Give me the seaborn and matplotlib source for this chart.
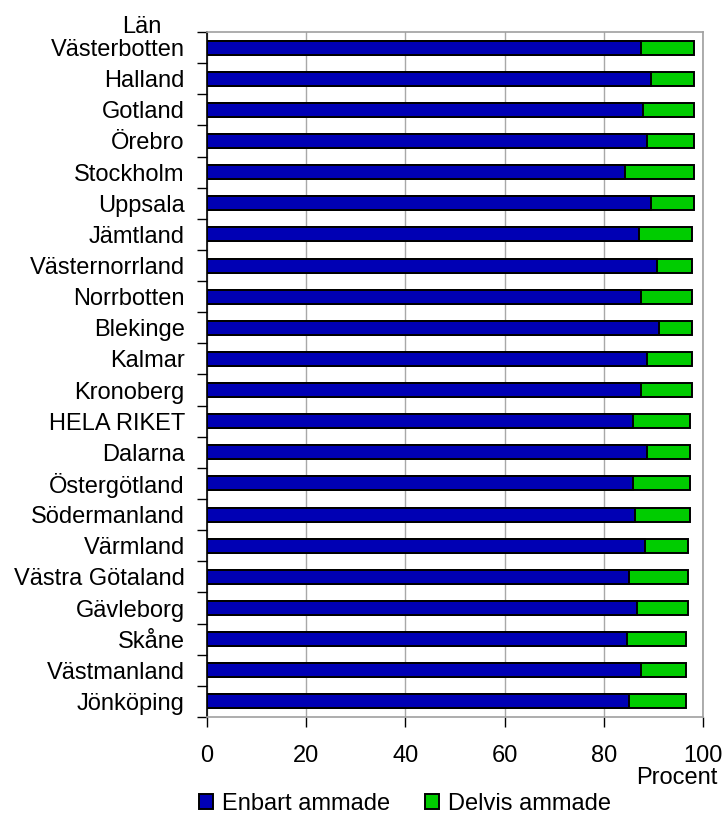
import numpy as np
import pandas as pd
import matplotlib
matplotlib.use("Agg")
import matplotlib.pyplot as plt
import seaborn as sns
from matplotlib.patches import Patch

lan = ["Västerbotten", "Halland", "Gotland", "Örebro", "Stockholm", "Uppsala",
       "Jämtland", "Västernorrland", "Norrbotten", "Blekinge", "Kalmar",
       "Kronoberg", "HELA RIKET", "Dalarna", "Östergötland", "Södermanland",
       "Värmland", "Västra Götaland", "Gävleborg", "Skåne", "Västmanland",
       "Jönköping"]
enbart = [87.4, 89.5, 87.9, 88.7, 84.2, 89.5, 87.1, 90.8, 87.4, 91.1, 88.7,
          87.4, 85.8, 88.7, 85.8, 86.2, 88.3, 85.0, 86.6, 84.6, 87.4, 85.0]
delvis = [10.7, 8.6, 10.2, 9.4, 13.9, 8.6, 10.6, 6.9, 10.3, 6.6, 9.0,
          10.3, 11.5, 8.6, 11.5, 11.1, 8.6, 11.9, 10.3, 11.9, 9.1, 11.5]

df = pd.DataFrame({"Län": lan, "Enbart": enbart, "Delvis": delvis})
df["Totalt"] = df["Enbart"] + df["Delvis"]

blue = "#0000B4"
green = "#00CC00"
fs = 17

sns.set_style("white")
plt.rcParams["font.family"] = ["Liberation Sans", "DejaVu Sans"]
plt.rcParams["text.color"] = "black"
plt.rcParams["xtick.labelcolor"] = "black"
plt.rcParams["ytick.labelcolor"] = "black"

fig = plt.figure(figsize=(7.23, 8.14), dpi=100)
ax = fig.add_axes([207/723, 1 - 717/814, (703 - 207)/723, (717 - 32)/814])

# stacked: green total behind, blue in front
sns.barplot(data=df, x="Totalt", y="Län", color=green, orient="h", width=0.45,
            edgecolor="black", linewidth=1.4, saturation=1, ax=ax, zorder=3)
sns.barplot(data=df, x="Enbart", y="Län", color=blue, orient="h", width=0.45,
            edgecolor="black", linewidth=1.4, saturation=1, ax=ax, zorder=4)

ax.set_xlim(0, 100)
ax.set_ylim(len(lan) - 0.5, -0.5)
ax.set_xticks([0, 20, 40, 60, 80, 100])
ax.set_xlabel("")
ax.set_ylabel("")
ax.grid(axis="x", color="#a8a8a8", linewidth=1.0, zorder=0)
ax.set_axisbelow(True)

ax.tick_params(axis="x", labelsize=fs, length=7, width=1, color="black",
               pad=13, direction="out", bottom=True, labelcolor="black")
ax.tick_params(axis="y", which="major", labelsize=fs, length=0, pad=16,
               labelcolor="black")
ax.set_yticks(np.arange(-0.5, len(lan), 1), minor=True)
ax.tick_params(axis="y", which="minor", length=7, width=1, color="black",
               direction="out", left=True)

for side in ["top", "right", "bottom"]:
    ax.spines[side].set_color("#a0a0a0")
    ax.spines[side].set_linewidth(1.2)
ax.spines["left"].set_color("black")
ax.spines["left"].set_linewidth(1.2)

fig.text(142/723, 1 - 33/814, "Län", fontsize=fs, ha="center", va="baseline")
fig.text(718/723, 1 - 784/814, "Procent", fontsize=fs, ha="right", va="baseline")

handles = [Patch(facecolor=blue, edgecolor="black", linewidth=1.4),
           Patch(facecolor=green, edgecolor="black", linewidth=1.4)]
fig.legend(handles, ["Enbart ammade", "Delvis ammade"], loc="center",
           bbox_to_anchor=(405/723, 1 - 804/814), ncol=2, frameon=False,
           fontsize=fs, handlelength=0.6, handleheight=0.6, handletextpad=0.38,
           columnspacing=1.5, borderaxespad=0, borderpad=0)

fig.savefig("out.png", dpi=100)
